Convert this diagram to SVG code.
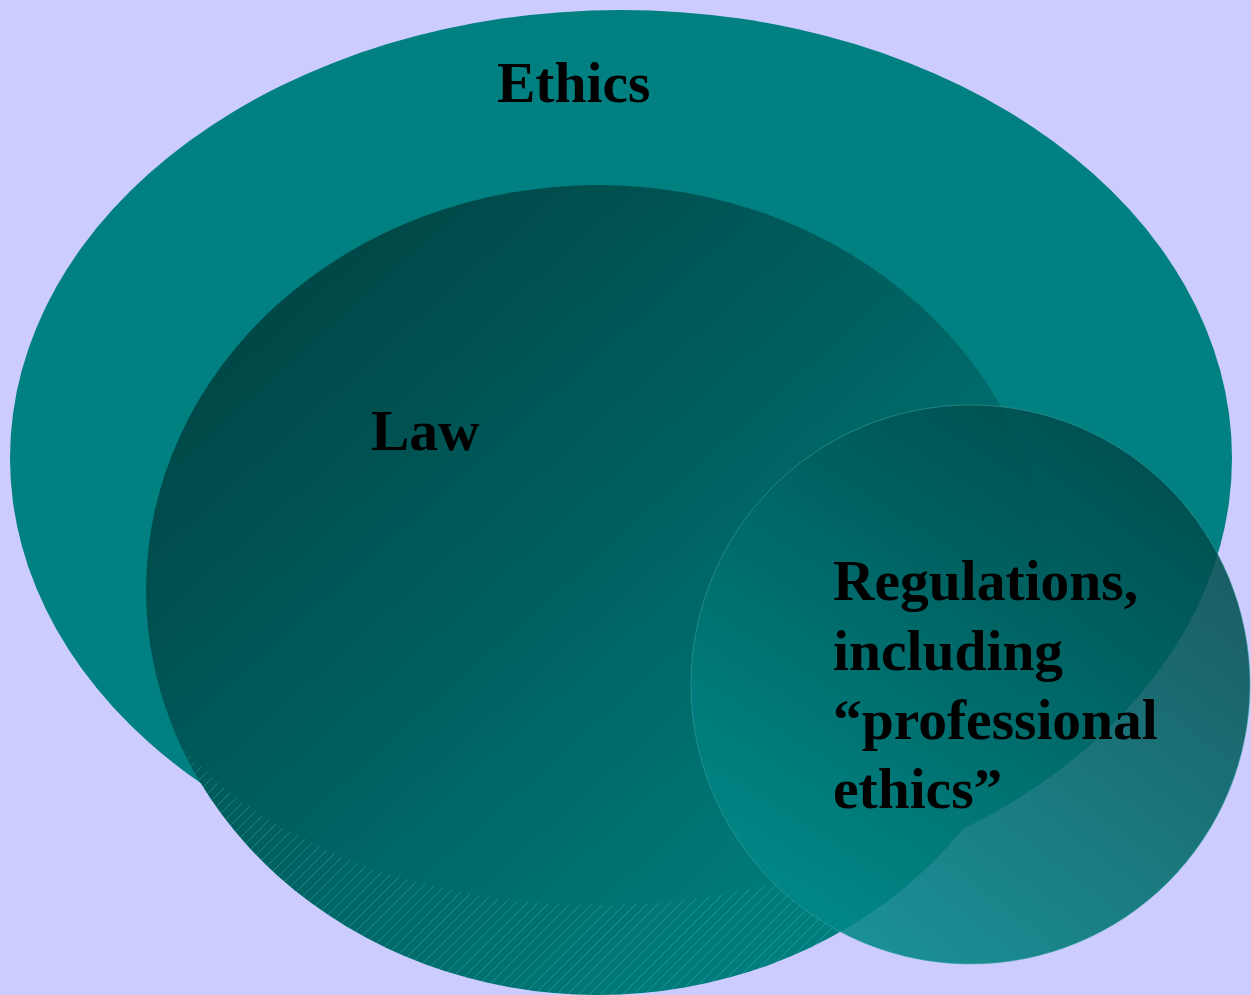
<svg xmlns="http://www.w3.org/2000/svg" width="1251" height="995" viewBox="0 0 1251 995">
  <defs>
    <linearGradient id="lawGrad" x1="0" y1="0" x2="1" y2="1">
      <stop offset="0" stop-color="#003c3c"/>
      <stop offset="0.5" stop-color="#006262"/>
      <stop offset="1" stop-color="#008c8c"/>
    </linearGradient>
    <linearGradient id="regGrad" x1="0.85" y1="0.1" x2="0.2" y2="0.95">
      <stop offset="0" stop-color="#004848"/>
      <stop offset="1" stop-color="#008a8a"/>
    </linearGradient>
    <pattern id="hatch" width="11" height="11" patternUnits="userSpaceOnUse">
      <path d="M-2,13 L13,-2" stroke="#6fd0d0" stroke-width="1" opacity="0.3"/>
    </pattern>
    <mask id="hatchMask">
      <ellipse cx="598" cy="590" rx="452" ry="405" fill="#ffffff"/>
      <ellipse cx="598" cy="590" rx="480" ry="315" fill="#000000"/>
    </mask>
    <style>
      .label { font-family: "Liberation Serif", "Times New Roman", serif; font-weight: bold; font-size: 57.5px; fill: #000000; }
    </style>
  </defs>
  <rect x="0" y="0" width="1251" height="995" fill="#ccccff"/>
  <g id="ethics">
    <ellipse cx="621" cy="458" rx="611" ry="448" fill="#008080"/>
    <text class="label" x="497" y="102">Ethics</text>
  </g>
  <g id="law">
    <ellipse cx="598" cy="590" rx="452" ry="405" fill="url(#lawGrad)"/>
    <rect x="140" y="700" width="920" height="295" fill="url(#hatch)" mask="url(#hatchMask)"/>
    <text class="label" x="371" y="450">Law</text>
  </g>
  <g id="regulations">
    <circle cx="970.5" cy="684.5" r="279.5" fill="url(#regGrad)" fill-opacity="0.87" stroke="#3fa8a8" stroke-opacity="0.5" stroke-width="1"/>
    <text class="label" x="833" y="600">Regulations,</text>
    <text class="label" x="833" y="670">including</text>
    <text class="label" x="833" y="739">“professional</text>
    <text class="label" x="833" y="808">ethics”</text>
  </g>
  <g id="connectors"/>
</svg>
